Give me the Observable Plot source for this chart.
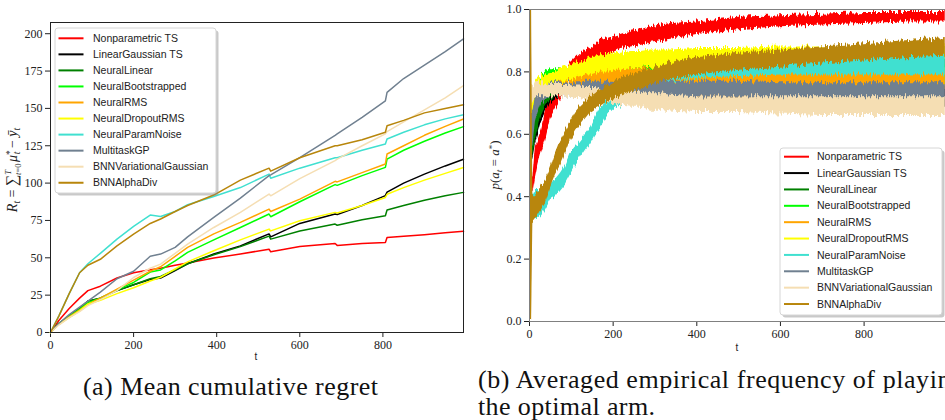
<!DOCTYPE html>
<html>
<head>
<meta charset="utf-8">
<script src="https://cdn.jsdelivr.net/npm/d3@7"></script>
<script src="https://cdn.jsdelivr.net/npm/@observablehq/plot@0.6"></script>
<style>
  body { margin: 0; background: #fff; }
  #fig { position: relative; width: 945px; height: 420px; overflow: hidden; background: #fff; }
  #fig > svg { position: absolute; top: 0; }
</style>
</head>
<body>
<div id="fig"></div>
<script>
// ---- series ----
const names = ["Nonparametric TS", "LinearGaussian TS", "NeuralLinear", "NeuralBootstrapped", "NeuralRMS",
               "NeuralDropoutRMS", "NeuralParamNoise", "MultitaskGP", "BNNVariationalGaussian", "BNNAlphaDiv"];
const colors = ["#ff0000", "#000000", "#008000", "#00ff00", "#ffa500",
                "#ffff00", "#40e0d0", "#708090", "#f5deb3", "#b8860b"];

// ---- (a) mean cumulative regret ----
const tRegret = [0, 20, 45, 70, 90, 120, 160, 200, 240, 265, 300, 330, 393, 457, 526, 530, 600, 685, 690, 750, 806, 810, 850, 900, 950, 994];
const regretNonparametricTS = [0, 8, 16, 23, 28, 31, 36.5, 40, 42, 43, 45, 46.5, 49.8, 52.5, 55.8, 54, 57.5, 59.6, 58.3, 59.5, 60.3, 63.6, 64.5, 65.5, 66.8, 67.7];
const regretLinearGaussianTS = [0, 6, 11, 16, 21, 23, 28, 32, 35.5, 36.5, 41.5, 46, 52.5, 58, 66, 64, 73, 79.3, 79, 85, 91.6, 94, 100, 106, 111.5, 116];
const regretNeuralLinear = [0, 6, 11, 16, 21, 23, 28, 32, 36, 37.5, 42, 46, 52, 57.5, 64.5, 62.5, 68, 72.6, 71.8, 75.5, 78.2, 82, 85, 88.5, 91.5, 93.8];
const regretNeuralBootstrapped = [0, 6, 11, 15.5, 20, 23, 28.5, 33.5, 40.5, 41.9, 48, 53.6, 62, 70.3, 79.3, 77.5, 87.5, 99, 98.5, 105, 110.5, 116, 122, 128, 133.5, 137.8];
const regretNeuralRMS = [0, 5.5, 10.5, 15, 19, 23, 29, 35, 41, 44, 51, 57, 66, 73.7, 82.6, 81, 89.3, 101.2, 100.8, 107, 112.8, 119.5, 125, 132, 138, 142.9];
const regretNeuralDropoutRMS = [0, 5.5, 10, 14.5, 19, 21.5, 26, 30, 34.5, 37, 42.5, 47.3, 54.7, 62, 69.2, 68, 74.8, 80.4, 80, 85, 90.4, 92.5, 97, 102, 106.5, 110.5];
const regretNeuralParamNoise = [0, 11, 26, 40, 46, 53, 62.5, 71, 78.6, 77.6, 81, 85.5, 91, 97, 106, 103.3, 110, 117, 117, 122, 126.2, 129.5, 134, 139, 143, 145.8];
const regretMultitaskGP = [0, 6, 12, 17, 21, 27, 36, 41, 51, 52.5, 57, 64, 77, 90, 105, 105.5, 117, 132, 133, 144, 155, 160.7, 170, 179, 188, 196.5];
const regretBNNVariationalGaussian = [0, 5, 10, 14, 18, 22, 28, 36.8, 43, 45.8, 53, 59.2, 70.3, 80.4, 92.7, 91.5, 103, 115, 116, 125, 133, 134.5, 141, 149, 157, 165.2];
const regretBNNAlphaDiv = [0, 11, 26, 40, 45, 49, 58, 65.9, 73, 76, 81, 85, 92, 102, 110, 108, 117, 125, 125, 129, 134, 138.4, 142, 147, 150, 152.5];
const regretSeries = [regretNonparametricTS, regretLinearGaussianTS, regretNeuralLinear, regretNeuralBootstrapped,
  regretNeuralRMS, regretNeuralDropoutRMS, regretNeuralParamNoise, regretMultitaskGP, regretBNNVariationalGaussian, regretBNNAlphaDiv];
const regretTicksX = [0, 200, 400, 600, 800];
const regretTicksY = [0, 25, 50, 75, 100, 125, 150, 175, 200];

// ---- (b) frequency of playing the optimal arm: low / high edge of each noisy trace ----
const tFreq = [0, 5, 8, 14, 20, 28, 38, 50, 62, 74, 86, 98, 110, 122, 134, 146, 158, 170, 182, 194, 206, 218, 242, 266, 290, 314, 338, 400, 500, 600, 700, 800, 900, 994];
const freqLoNonparametricTS = [0.41,0.41,0.41,0.46,0.50,0.54,0.58,0.65,0.68,0.71,0.74,0.77,0.79,0.80,0.815,0.83,0.84,0.85,0.855,0.86,0.865,0.875,0.88,0.885,0.895,0.90,0.905,0.92,0.935,0.945,0.95,0.955,0.96,0.96];
const freqHiNonparametricTS = [0.46,0.46,0.46,0.56,0.58,0.61,0.67,0.71,0.74,0.77,0.80,0.83,0.845,0.86,0.87,0.875,0.885,0.90,0.905,0.91,0.915,0.92,0.93,0.935,0.945,0.95,0.955,0.96,0.975,0.98,0.985,0.99,0.99,0.99];
const freqLoLinearGaussianTS = [0.52,0.52,0.52,0.57,0.60,0.64,0.67,0.70,0.71,0.72,0.73,0.73,0.73,0.73,0.73,0.73,0.73,0.73,0.73,0.73,0.73,0.73,0.73,0.73,0.73,0.725,0.72,0.715,0.71,0.70,0.70,0.70,0.69,0.69];
const freqHiLinearGaussianTS = [0.60,0.60,0.60,0.65,0.68,0.71,0.74,0.76,0.77,0.78,0.79,0.795,0.80,0.80,0.80,0.80,0.80,0.80,0.80,0.80,0.80,0.80,0.80,0.80,0.795,0.79,0.79,0.785,0.78,0.77,0.77,0.765,0.76,0.76];
const freqLoNeuralLinear = [0.53,0.53,0.53,0.58,0.62,0.66,0.69,0.71,0.72,0.73,0.735,0.74,0.74,0.745,0.745,0.75,0.75,0.755,0.755,0.76,0.76,0.76,0.765,0.765,0.77,0.77,0.77,0.775,0.78,0.79,0.795,0.80,0.805,0.81];
const freqHiNeuralLinear = [0.62,0.62,0.62,0.66,0.69,0.72,0.74,0.76,0.78,0.79,0.795,0.80,0.805,0.81,0.81,0.815,0.82,0.82,0.825,0.825,0.83,0.83,0.835,0.835,0.84,0.84,0.84,0.845,0.85,0.86,0.865,0.87,0.875,0.88];
const freqLoNeuralBootstrapped = [0.60,0.60,0.60,0.68,0.71,0.73,0.74,0.75,0.75,0.75,0.75,0.75,0.75,0.75,0.75,0.75,0.75,0.75,0.75,0.75,0.75,0.75,0.75,0.755,0.755,0.755,0.755,0.755,0.755,0.755,0.76,0.76,0.76,0.76];
const freqHiNeuralBootstrapped = [0.68,0.68,0.68,0.75,0.77,0.79,0.80,0.81,0.81,0.81,0.81,0.81,0.81,0.81,0.81,0.81,0.81,0.81,0.81,0.81,0.81,0.81,0.81,0.815,0.815,0.815,0.815,0.815,0.815,0.815,0.82,0.82,0.82,0.82];
const freqLoNeuralRMS = [0.58,0.58,0.58,0.66,0.69,0.71,0.73,0.735,0.74,0.745,0.745,0.75,0.75,0.75,0.75,0.75,0.75,0.755,0.755,0.755,0.755,0.755,0.755,0.755,0.755,0.755,0.755,0.755,0.755,0.755,0.75,0.75,0.75,0.75];
const freqHiNeuralRMS = [0.66,0.66,0.66,0.72,0.74,0.76,0.78,0.79,0.79,0.795,0.80,0.80,0.80,0.80,0.80,0.80,0.805,0.805,0.805,0.805,0.81,0.81,0.81,0.81,0.81,0.81,0.81,0.81,0.81,0.805,0.80,0.80,0.80,0.80];
const freqLoNeuralDropoutRMS = [0.64,0.64,0.64,0.72,0.74,0.745,0.75,0.75,0.76,0.77,0.77,0.775,0.78,0.785,0.79,0.79,0.795,0.80,0.80,0.80,0.805,0.805,0.81,0.81,0.815,0.815,0.815,0.82,0.82,0.825,0.83,0.835,0.84,0.84];
const freqHiNeuralDropoutRMS = [0.72,0.72,0.72,0.77,0.78,0.785,0.79,0.795,0.80,0.81,0.815,0.82,0.83,0.835,0.84,0.85,0.85,0.855,0.855,0.86,0.86,0.86,0.865,0.865,0.87,0.87,0.87,0.875,0.875,0.88,0.88,0.885,0.89,0.89];
const freqLoNeuralParamNoise = [0.33,0.33,0.33,0.33,0.33,0.34,0.36,0.39,0.40,0.42,0.44,0.47,0.50,0.525,0.55,0.57,0.60,0.62,0.65,0.67,0.685,0.69,0.71,0.72,0.74,0.755,0.77,0.78,0.785,0.79,0.79,0.79,0.79,0.79];
const freqHiNeuralParamNoise = [0.40,0.40,0.40,0.42,0.42,0.42,0.43,0.44,0.455,0.475,0.50,0.54,0.56,0.58,0.60,0.62,0.655,0.685,0.70,0.715,0.725,0.735,0.755,0.77,0.79,0.81,0.825,0.835,0.84,0.845,0.845,0.85,0.85,0.85];
const freqLoMultitaskGP = [0.55,0.55,0.56,0.64,0.67,0.70,0.71,0.72,0.72,0.72,0.72,0.72,0.72,0.72,0.72,0.72,0.72,0.72,0.72,0.72,0.72,0.72,0.72,0.72,0.72,0.72,0.72,0.72,0.72,0.715,0.71,0.71,0.71,0.71];
const freqHiMultitaskGP = [0.67,0.67,0.67,0.72,0.74,0.75,0.76,0.765,0.765,0.765,0.765,0.765,0.765,0.765,0.77,0.77,0.77,0.77,0.77,0.77,0.77,0.77,0.77,0.77,0.77,0.77,0.77,0.77,0.77,0.765,0.765,0.765,0.765,0.765];
const freqLoBNNVariationalGaussian = [0.70,0.70,0.70,0.72,0.72,0.72,0.72,0.72,0.72,0.72,0.72,0.72,0.715,0.715,0.71,0.71,0.705,0.70,0.70,0.70,0.695,0.695,0.69,0.69,0.68,0.68,0.675,0.67,0.67,0.665,0.66,0.66,0.66,0.66];
const freqHiBNNVariationalGaussian = [0.76,0.76,0.76,0.765,0.765,0.765,0.765,0.76,0.76,0.76,0.76,0.76,0.755,0.755,0.75,0.75,0.75,0.745,0.745,0.745,0.74,0.74,0.735,0.735,0.73,0.73,0.725,0.72,0.72,0.72,0.72,0.72,0.72,0.72];
const freqLoBNNAlphaDiv = [0,0,0.32,0.33,0.34,0.36,0.38,0.43,0.47,0.50,0.54,0.58,0.61,0.63,0.65,0.67,0.68,0.69,0.70,0.71,0.715,0.72,0.735,0.745,0.755,0.765,0.775,0.79,0.805,0.815,0.825,0.835,0.845,0.85];
const freqHiBNNAlphaDiv = [1,1,0.40,0.40,0.41,0.43,0.45,0.49,0.54,0.58,0.61,0.64,0.67,0.69,0.705,0.72,0.73,0.745,0.755,0.76,0.77,0.78,0.79,0.80,0.81,0.82,0.83,0.845,0.86,0.87,0.88,0.89,0.90,0.91];
const freqLo = [freqLoNonparametricTS, freqLoLinearGaussianTS, freqLoNeuralLinear, freqLoNeuralBootstrapped, freqLoNeuralRMS,
  freqLoNeuralDropoutRMS, freqLoNeuralParamNoise, freqLoMultitaskGP, freqLoBNNVariationalGaussian, freqLoBNNAlphaDiv];
const freqHi = [freqHiNonparametricTS, freqHiLinearGaussianTS, freqHiNeuralLinear, freqHiNeuralBootstrapped, freqHiNeuralRMS,
  freqHiNeuralDropoutRMS, freqHiNeuralParamNoise, freqHiMultitaskGP, freqHiBNNVariationalGaussian, freqHiBNNAlphaDiv];
const freqTicksX = [0, 200, 400, 600, 800];
const freqTicksY = [0, 0.2, 0.4, 0.6, 0.8, 1.0];

// ---- tidy rows ----
const regretRows = names.flatMap((s, i) => tRegret.map((t, j) => ({series: s, t, r: regretSeries[i][j]})));
const freqRows = names.flatMap((s, i) => tFreq.map((t, j) => ({series: s, t, lo: freqLo[i][j], hi: freqHi[i][j]})));

const serif = "Liberation Serif, serif";
const sans = "Liberation Sans, sans-serif";
const fig = document.getElementById("fig");
const colorScale = {domain: names, range: colors};

// ---- panel (a) ----
const left = Plot.plot({
  width: 470, height: 370,
  marginLeft: 50, marginRight: 7, marginTop: 22, marginBottom: 38,
  style: {fontFamily: serif, fontSize: "12px", color: "#222", background: "transparent", overflow: "visible"},
  x: {domain: [0, 994], ticks: regretTicksX, tickSize: 5, tickPadding: 3, label: null},
  y: {domain: [0, 207.5], ticks: regretTicksY, tickSize: 5, tickPadding: 3, label: null},
  color: colorScale,
  marks: [
    Plot.line(regretRows, {x: "t", y: "r", z: "series", stroke: "series", strokeWidth: 1.5}),
    Plot.frame({stroke: "#222", strokeWidth: 1})
  ]
});
left.style.left = "0px";
fig.appendChild(left);

// ---- panel (b) ----
const right = Plot.plot({
  width: 476, height: 370,
  marginLeft: 59, marginRight: 0, marginTop: 9, marginBottom: 49,
  style: {fontFamily: serif, fontSize: "12px", color: "#222", background: "transparent"},
  x: {domain: [0, 997], ticks: freqTicksX, tickSize: 5, tickPadding: 3, label: null},
  y: {domain: [0, 1], ticks: freqTicksY, tickFormat: d3.format(".1f"), tickSize: 5, tickPadding: 3, label: null},
  color: colorScale,
  marks: [
    Plot.areaY(freqRows, {x: "t", y1: "lo", y2: "hi", z: "series", fill: "series"}),
    Plot.frame({stroke: "#808080", strokeWidth: 1})
  ]
});
right.style.left = "470px";
fig.appendChild(right);

// jagged edges for the noisy traces, clipped to the plot area
{
  const s = d3.select(right);
  const defs = s.insert("defs", ":first-child");
  const f = defs.append("filter").attr("id", "rough")
    .attr("filterUnits", "userSpaceOnUse").attr("x", 0).attr("y", 0).attr("width", 476).attr("height", 370);
  f.append("feTurbulence").attr("type", "fractalNoise").attr("baseFrequency", "0.6 0.04")
    .attr("numOctaves", 2).attr("seed", 7).attr("result", "n");
  f.append("feColorMatrix").attr("in", "n").attr("type", "matrix")
    .attr("values", "0 0 0 0 0.5  0 1 0 0 0  0 0 1 0 0  0 0 0 0 1").attr("result", "m");
  f.append("feDisplacementMap").attr("in", "SourceGraphic").attr("in2", "m").attr("scale", 11)
    .attr("xChannelSelector", "R").attr("yChannelSelector", "G");
  defs.append("clipPath").attr("id", "plotArea").append("rect")
    .attr("x", 59).attr("y", 9).attr("width", 417).attr("height", 312);
  const g = s.select("g[aria-label='area']");
  const wrap = s.insert("g", "g[aria-label='area']").attr("clip-path", "url(#plotArea)");
  g.attr("filter", "url(#rough)");
  wrap.node().appendChild(g.node());
}

// ---- legends ----
function legend(svg, x0, y0, w, h, rowY0, step, lx0, lx1, tx) {
  const g = d3.select(svg).append("g").attr("text-anchor", "start");
  g.append("rect").attr("x", x0 + 2.5).attr("y", y0 + 2.5).attr("width", w).attr("height", h).attr("rx", 3)
    .attr("fill", "#888").attr("fill-opacity", 0.45);
  g.append("rect").attr("x", x0).attr("y", y0).attr("width", w).attr("height", h).attr("rx", 3)
    .attr("fill", "#fff").attr("stroke", "#d6d6d6");
  names.forEach((n, i) => {
    const y = rowY0 + i * step;
    g.append("line").attr("x1", lx0).attr("x2", lx1).attr("y1", y).attr("y2", y)
      .attr("stroke", colors[i]).attr("stroke-width", 2);
    g.append("text").attr("x", tx).attr("y", y + 3.6).attr("font-family", sans).attr("font-size", 10.5)
      .attr("fill", "#222").text(n);
  });
}
legend(left, 55, 28, 161, 165, 38.3, 16.05, 58.5, 83.5, 93);
legend(right, 310, 148, 162, 167, 156.7, 16.37, 314, 339, 347);

// ---- axis titles ----
{
  const t = d3.select(left).append("text")
    .attr("transform", "translate(17,170) rotate(-90)").attr("text-anchor", "middle")
    .attr("font-family", serif).attr("font-size", 14).attr("fill", "#222");
  t.append("tspan").attr("font-style", "italic").text("R");
  t.append("tspan").attr("font-size", 9.5).attr("font-style", "italic").attr("dy", 2.5).text("t");
  t.append("tspan").attr("dy", -2.5).text(" = ");
  t.append("tspan").attr("font-size", 16).text("\u2211");
  t.append("tspan").attr("font-size", 8.5).attr("font-style", "italic").attr("dy", -6).text("T");
  t.append("tspan").attr("font-size", 8.5).attr("font-style", "italic").attr("dx", -5).attr("dy", 9.5).text("t");
  t.append("tspan").attr("font-size", 8.5).text("=0");
  t.append("tspan").attr("font-style", "italic").attr("dx", 1.5).attr("dy", -3.5).text("\u03bc");
  t.append("tspan").attr("font-size", 9.5).attr("dy", -4.5).text("*");
  t.append("tspan").attr("font-size", 9.5).attr("font-style", "italic").attr("dx", -4).attr("dy", 7).text("t");
  t.append("tspan").attr("dy", -2.5).text(" \u2212 ");
  t.append("tspan").attr("font-style", "italic").text("y\u0304");
  t.append("tspan").attr("font-size", 9.5).attr("font-style", "italic").attr("dy", 2.5).text("t");

  const p = d3.select(right).append("text")
    .attr("transform", "translate(29,165) rotate(-90)").attr("text-anchor", "middle")
    .attr("font-family", serif).attr("font-size", 13).attr("fill", "#222");
  p.append("tspan").attr("font-style", "italic").text("p");
  p.append("tspan").text("(");
  p.append("tspan").attr("font-style", "italic").text("a");
  p.append("tspan").attr("font-size", 9).attr("font-style", "italic").attr("dy", 2.5).text("t");
  p.append("tspan").attr("dy", -2.5).text(" = ");
  p.append("tspan").attr("font-style", "italic").text("a");
  p.append("tspan").attr("font-size", 9).attr("dy", -4.5).text("*");
  p.append("tspan").attr("dy", 4.5).text(")");

  d3.select(left).append("text").attr("x", 256).attr("y", 360).attr("text-anchor", "middle")
    .attr("font-family", sans).attr("font-size", 10).attr("fill", "#222").text("t");
  d3.select(right).append("text").attr("x", 267).attr("y", 351).attr("text-anchor", "middle")
    .attr("font-family", sans).attr("font-size", 10).attr("fill", "#222").text("t");
}

// ---- sub-figure captions ----
{
  const cap = d3.select(fig).append("svg").attr("width", 945).attr("height", 420)
    .style("left", "0px").style("pointer-events", "none");
  const c = cap.append("g").attr("font-family", serif).attr("font-size", 26)
    .attr("text-anchor", "start").attr("fill", "#111");
  c.append("text").attr("x", 83).attr("y", 395).attr("textLength", 295).attr("lengthAdjust", "spacing")
    .text("(a) Mean cumulative regret");
  c.append("text").attr("x", 478).attr("y", 388).attr("textLength", 486).attr("lengthAdjust", "spacing")
    .text("(b) Averaged empirical frequency of playing");
  c.append("text").attr("x", 478).attr("y", 415).attr("textLength", 177).attr("lengthAdjust", "spacing")
    .text("the optimal arm.");
}
</script>
</body>
</html>
